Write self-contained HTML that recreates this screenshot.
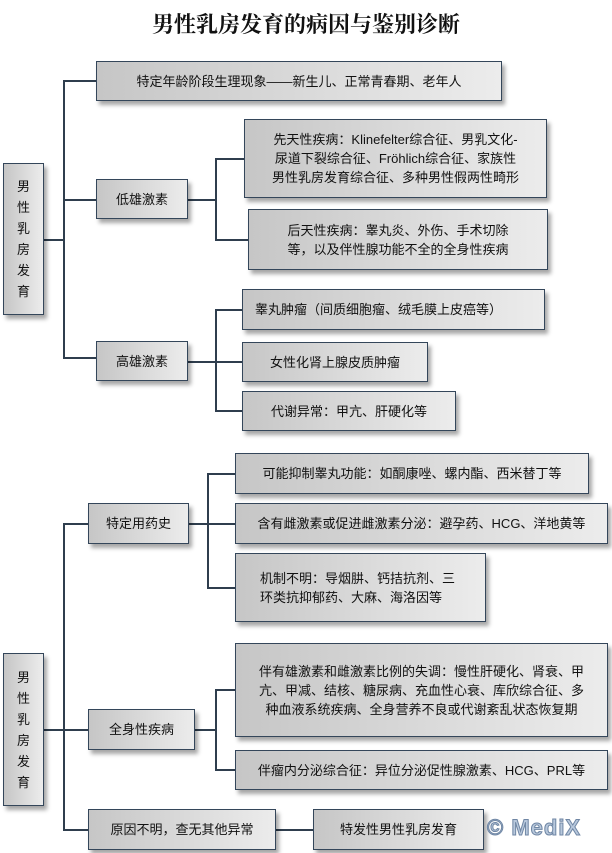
<!DOCTYPE html>
<html><head><meta charset="utf-8"><style>
body{margin:0;width:612px;height:853px;background:#fff;position:relative;overflow:hidden;font-family:"Liberation Sans","Noto Sans CJK SC","WenQuanYi Zen Hei",sans-serif;color:#111}
.b{position:absolute;box-sizing:border-box;border:1.5px solid #34465a;background:linear-gradient(to right,#c6c6c6,#ececec);box-shadow:3px 4px 4px rgba(0,0,0,.35);display:flex;align-items:center;justify-content:center;text-align:center;font-size:13px;line-height:19px}
.l{position:absolute;background:#2f3e4e}
.h{height:1.5px}.v{width:1.5px}
.t{position:absolute;left:0;width:612px;top:8px;text-align:center;font-size:22px;font-weight:bold;font-family:"Noto Serif CJK SC","Liberation Serif",serif}
</style></head><body>
<div class="t">男性乳房发育的病因与鉴别诊断</div>

<!-- part 1 lines -->
<div class="l h" style="left:43px;top:239px;width:20px"></div>
<div class="l v" style="left:63px;top:80px;height:278px"></div>
<div class="l h" style="left:63px;top:80px;width:33px"></div>
<div class="l h" style="left:63px;top:199px;width:33px"></div>
<div class="l h" style="left:63px;top:357px;width:33px"></div>
<div class="l h" style="left:187px;top:199px;width:28px"></div>
<div class="l v" style="left:215px;top:158px;height:81px"></div>
<div class="l h" style="left:215px;top:158px;width:29px"></div>
<div class="l h" style="left:215px;top:239px;width:33px"></div>
<div class="l h" style="left:187px;top:361px;width:28px"></div>
<div class="l v" style="left:215px;top:309px;height:102px"></div>
<div class="l h" style="left:215px;top:309px;width:27px"></div>
<div class="l h" style="left:215px;top:361px;width:27px"></div>
<div class="l h" style="left:215px;top:410px;width:27px"></div>

<div class="b" style="left:3px;top:163px;width:41px;height:152px;line-height:21px">男<br>性<br>乳<br>房<br>发<br>育</div>
<div class="b" style="left:96px;top:61px;width:406px;height:40px">特定年龄阶段生理现象——新生儿、正常青春期、老年人</div>
<div class="b" style="left:96px;top:179px;width:92px;height:40px">低雄激素</div>
<div class="b" style="left:244px;top:119px;width:303px;height:79px">先天性疾病：Klinefelter综合征、男乳文化-<br>尿道下裂综合征、Fröhlich综合征、家族性<br>男性乳房发育综合征、多种男性假两性畸形</div>
<div class="b" style="left:248px;top:209px;width:300px;height:61px">后天性疾病：睾丸炎、外伤、手术切除<br>等，以及伴性腺功能不全的全身性疾病</div>
<div class="b" style="left:96px;top:341px;width:92px;height:40px">高雄激素</div>
<div class="b" style="left:242px;top:289px;width:303px;height:41px;justify-content:flex-start;padding-left:12px">睾丸肿瘤（间质细胞瘤、绒毛膜上皮癌等）</div>
<div class="b" style="left:242px;top:342px;width:186px;height:40px">女性化肾上腺皮质肿瘤</div>
<div class="b" style="left:242px;top:391px;width:214px;height:40px">代谢异常：甲亢、肝硬化等</div>

<!-- part 2 lines -->
<div class="l h" style="left:43px;top:729px;width:20px"></div>
<div class="l v" style="left:63px;top:523px;height:307px"></div>
<div class="l h" style="left:63px;top:523px;width:25px"></div>
<div class="l h" style="left:63px;top:729px;width:25px"></div>
<div class="l h" style="left:63px;top:829px;width:25px"></div>
<div class="l h" style="left:188px;top:523px;width:47px"></div>
<div class="l v" style="left:207px;top:473px;height:114px"></div>
<div class="l h" style="left:207px;top:473px;width:28px"></div>
<div class="l h" style="left:207px;top:587px;width:28px"></div>
<div class="l h" style="left:194px;top:729px;width:21px"></div>
<div class="l v" style="left:215px;top:689px;height:81px"></div>
<div class="l h" style="left:215px;top:689px;width:20px"></div>
<div class="l h" style="left:215px;top:769px;width:20px"></div>
<div class="l h" style="left:275px;top:829px;width:38px"></div>

<div class="b" style="left:3px;top:653px;width:41px;height:153px;line-height:21px">男<br>性<br>乳<br>房<br>发<br>育</div>
<div class="b" style="left:88px;top:503px;width:101px;height:41px">特定用药史</div>
<div class="b" style="left:235px;top:453px;width:354px;height:41px">可能抑制睾丸功能：如酮康唑、螺内酯、西米替丁等</div>
<div class="b" style="left:235px;top:503px;width:373px;height:41px">含有雌激素或促进雌激素分泌：避孕药、HCG、洋地黄等</div>
<div class="b" style="left:235px;top:553px;width:251px;height:69px;justify-content:flex-start;text-align:left;padding-left:24px">机制不明：导烟肼、钙拮抗剂、三<br>环类抗抑郁药、大麻、海洛因等</div>
<div class="b" style="left:88px;top:709px;width:107px;height:41px">全身性疾病</div>
<div class="b" style="left:235px;top:643px;width:373px;height:94px">伴有雄激素和雌激素比例的失调：慢性肝硬化、肾衰、甲<br>亢、甲减、结核、糖尿病、充血性心衰、库欣综合征、多<br>种血液系统疾病、全身营养不良或代谢紊乱状态恢复期</div>
<div class="b" style="left:235px;top:750px;width:373px;height:40px">伴瘤内分泌综合征：异位分泌促性腺激素、HCG、PRL等</div>
<div class="b" style="left:88px;top:809px;width:188px;height:41px">原因不明，查无其他异常</div>
<div class="b" style="left:313px;top:809px;width:171px;height:41px">特发性男性乳房发育</div>
<div style="position:absolute;left:487px;top:815px;font-size:22px;font-weight:bold;color:#b8c8dc;-webkit-text-stroke:1px #6f86a4;letter-spacing:1px">© MediX</div>
</body></html>
